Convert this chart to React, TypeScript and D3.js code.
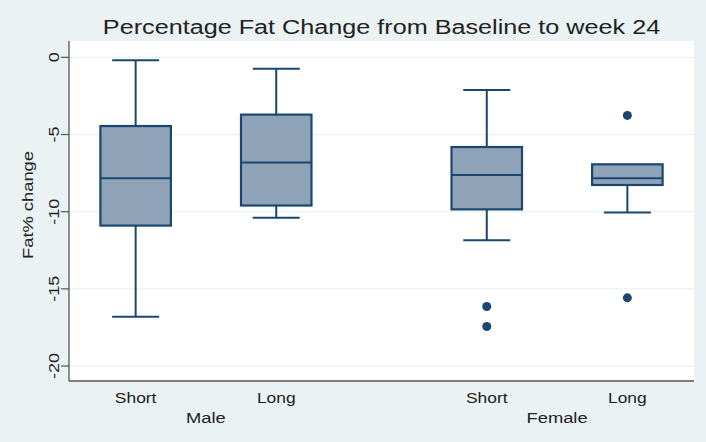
import * as d3 from "d3";
import { useEffect, useRef } from "react";

const groups = ["Male", "Female"];
const arms = ["Short", "Long"];

// box stats per group/arm, in order Male-Short, Male-Long, Female-Short, Female-Long
const lowerWhisker = [-16.8, -10.4, -11.85, -10.05];
const q1 = [-10.9, -9.6, -9.85, -8.27];
const median = [-7.83, -6.82, -7.62, -7.83];
const q3 = [-4.45, -3.71, -5.81, -6.93];
const upperWhisker = [-0.19, -0.74, -2.12, -6.93];
const outliers = [[], [], [-16.14, -17.44], [-3.76, -15.58]];

const yTicks = [0, -5, -10, -15, -20];

const App = () => {
  const svgRef = useRef<SVGSVGElement>(null);

  useEffect(() => {
    const svg = d3.select(svgRef.current);
    svg.selectAll("*").remove();

    const W = 706;
    const H = 442;
    const left = 69;
    const right = 694;
    const top = 41;
    const bottom = 381;
    const navy = "#1a476f";
    const textColor = "#222";
    const font = "'Liberation Sans', Arial, sans-serif";
    const stretch = 1.2;

    svg.attr("width", W).attr("height", H);

    svg.append("rect").attr("width", W).attr("height", H).attr("fill", "#eaf2f3");
    svg
      .append("rect")
      .attr("x", left)
      .attr("y", top)
      .attr("width", right - left)
      .attr("height", bottom - top)
      .attr("fill", "#fff");

    const y = d3.scaleLinear().domain([-20.97, 1.06]).range([bottom, top]);

    const x0 = d3
      .scaleBand()
      .domain(groups)
      .range([left, right])
      .paddingInner(0.22)
      .paddingOuter(0);
    const x1 = d3
      .scalePoint()
      .domain(arms)
      .range([0, x0.bandwidth()])
      .padding(0.474);

    const cx = (i: number) => {
      const g = groups[Math.floor(i / 2)];
      const a = arms[i % 2];
      return (x0(g) || 0) + (x1(a) || 0);
    };

    const text = (
      str: string,
      x: number,
      yy: number,
      size: number,
      rotate = 0,
      anchor = "middle"
    ) =>
      svg
        .append("text")
        .attr(
          "transform",
          `translate(${x},${yy}) rotate(${rotate}) scale(${stretch},1)`
        )
        .attr("text-anchor", anchor)
        .attr("font-family", font)
        .attr("font-size", size)
        .attr("fill", textColor)
        .text(str);

    // grid lines
    svg
      .selectAll(".grid")
      .data(yTicks)
      .enter()
      .append("line")
      .attr("x1", left)
      .attr("x2", right)
      .attr("y1", (d) => y(d))
      .attr("y2", (d) => y(d))
      .attr("stroke", "#eaf2f3")
      .attr("stroke-width", 1.2);

    // axes
    svg
      .append("line")
      .attr("x1", left)
      .attr("x2", left)
      .attr("y1", top)
      .attr("y2", bottom)
      .attr("stroke", "#555")
      .attr("stroke-width", 1.3);
    svg
      .append("line")
      .attr("x1", left)
      .attr("x2", right)
      .attr("y1", bottom)
      .attr("y2", bottom)
      .attr("stroke", "#555")
      .attr("stroke-width", 1.3);

    yTicks.forEach((t) => {
      svg
        .append("line")
        .attr("x1", left - 8)
        .attr("x2", left)
        .attr("y1", y(t))
        .attr("y2", y(t))
        .attr("stroke", "#555")
        .attr("stroke-width", 1.2);
      text(String(t), 59, y(t), 15, -90);
    });

    // boxes
    const boxW = 70.5;
    const capW = 47;
    d3.range(4).forEach((i) => {
      const c = cx(i);
      const line = (x1v: number, y1v: number, x2v: number, y2v: number) =>
        svg
          .append("line")
          .attr("x1", x1v)
          .attr("x2", x2v)
          .attr("y1", y1v)
          .attr("y2", y2v)
          .attr("stroke", navy)
          .attr("stroke-width", 2);

      // whiskers
      if (upperWhisker[i] > q3[i]) {
        line(c, y(q3[i]), c, y(upperWhisker[i]));
        line(c - capW / 2, y(upperWhisker[i]), c + capW / 2, y(upperWhisker[i]));
      }
      line(c, y(q1[i]), c, y(lowerWhisker[i]));
      line(c - capW / 2, y(lowerWhisker[i]), c + capW / 2, y(lowerWhisker[i]));

      svg
        .append("rect")
        .attr("x", c - boxW / 2)
        .attr("y", y(q3[i]))
        .attr("width", boxW)
        .attr("height", y(q1[i]) - y(q3[i]))
        .attr("fill", "#8ea3b8")
        .attr("stroke", navy)
        .attr("stroke-width", 2.2);
      line(c - boxW / 2, y(median[i]), c + boxW / 2, y(median[i]));

      outliers[i].forEach((v) => {
        svg
          .append("circle")
          .attr("cx", c)
          .attr("cy", y(v))
          .attr("r", 4.5)
          .attr("fill", navy);
      });

      text(arms[i % 2], c, 402.5, 14.5);
    });

    groups.forEach((g) => {
      text(g, (x0(g) || 0) + x0.bandwidth() / 2, 422.5, 15.3);
    });

    text("Fat% change", 33, 205, 15.3, -90);
    text("Percentage Fat Change from Baseline to week 24", (left + right) / 2, 34.3, 21);
  }, []);

  return (
    <svg
      ref={svgRef}
      style={{ position: "absolute", left: 0, top: 0, display: "block" }}
    ></svg>
  );
};

export default App;
